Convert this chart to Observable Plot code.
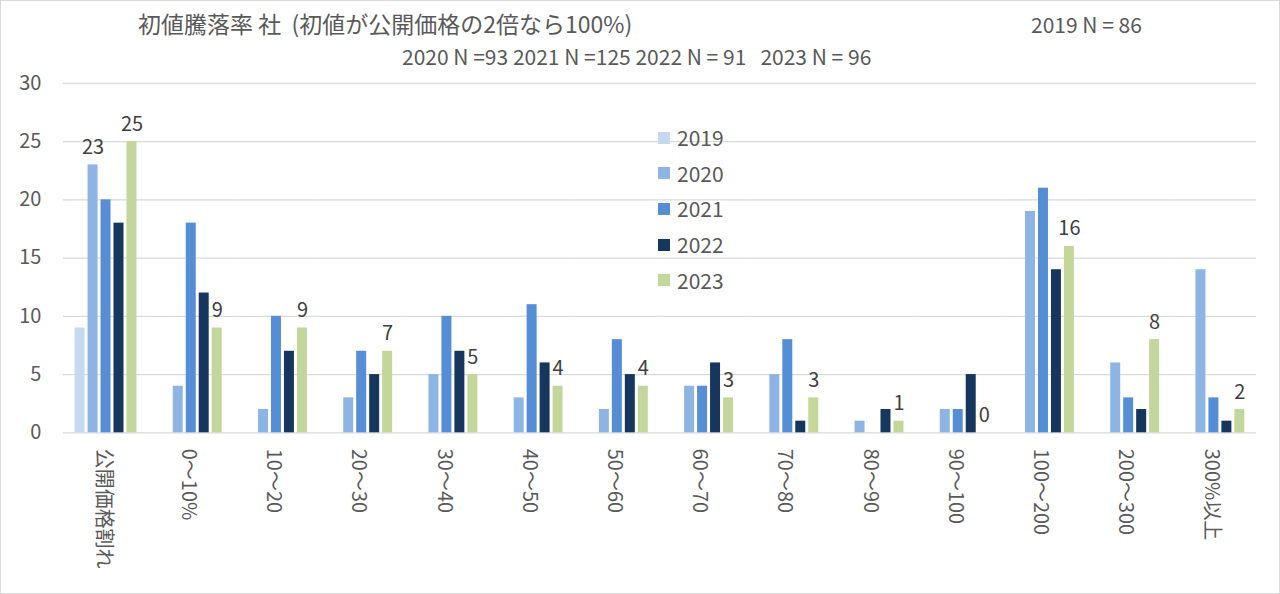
<!DOCTYPE html>
<html>
<head>
<meta charset="utf-8">
<script src="https://cdn.jsdelivr.net/npm/d3@7"></script>
<script src="https://cdn.jsdelivr.net/npm/@observablehq/plot@0.6"></script>
<style>
  html, body { margin: 0; padding: 0; background: #fff; }
  #wrap { position: relative; width: 1280px; height: 594px; box-sizing: border-box; border: 1px solid #d9d9d9; overflow: hidden;
          font-family: "Noto Sans CJK JP", "Noto Sans", sans-serif; color: #595959; }
  #wrap svg { position: absolute; left: -1px; top: -1px; }
  .t { position: absolute; font-size: 21px; white-space: pre; line-height: 1; }
  .lg { position: absolute; font-size: 21px; line-height: 1; display: flex; align-items: center; }
  .lg span.sw { display: inline-block; width: 12px; height: 12px; margin-right: 7px; }
</style>
</head>
<body>
<div id="wrap"></div>
<script>
const categories = ["公開価格割れ", "0～10%", "10～20", "20～30", "30～40", "40～50", "50～60", "60～70", "70～80", "80～90", "90～100", "100～200", "200～300", "300%以上"];
const years = ["2019", "2020", "2021", "2022", "2023"];
const colors = ["#c6d9f0", "#8eb4e3", "#558ed5", "#17365d", "#c3d69b"];
const v2019 = [9, null, null, null, null, null, null, null, null, null, null, null, null, null];
const v2020 = [23, 4, 2, 3, 5, 3, 2, 4, 5, 1, 2, 19, 6, 14];
const v2021 = [20, 18, 10, 7, 10, 11, 8, 4, 8, 0, 2, 21, 3, 3];
const v2022 = [18, 12, 7, 5, 7, 6, 5, 6, 1, 2, 5, 14, 2, 1];
const v2023 = [25, 9, 9, 7, 5, 4, 4, 3, 3, 1, 0, 16, 8, 2];
const yTicks = [0, 5, 10, 15, 20, 25, 30];
const title1 = "初値騰落率 社  (初値が公開価格の2倍なら100%)";
const title2 = "2020 N =93 2021 N =125 2022 N = 91   2023 N = 96";
const title3 = "2019 N = 86";

const series = [v2019, v2020, v2021, v2022, v2023];
const rows = [];
categories.forEach((c, i) => {
  years.forEach((y, j) => {
    const v = series[j][i];
    if (v != null) rows.push({cat: c, year: y, value: v});
  });
});
const labelRows = rows.filter(d => d.year === "2023" || (d.year === "2020" && d.cat === categories[0]));

const chart = Plot.plot({
  width: 1280,
  height: 594,
  marginTop: 83,
  marginBottom: 161,
  marginLeft: 63,
  marginRight: 22,
  style: {fontFamily: '"Noto Sans CJK JP", "Noto Sans", sans-serif', fontSize: "20px", color: "#595959", background: "transparent"},
  fx: {domain: categories, padding: 0, round: false, label: null},
  x: {domain: years, paddingInner: 0.23, paddingOuter: 0.9, round: false, axis: null},
  y: {domain: [0, 30], ticks: yTicks, label: null},
  color: {domain: years, range: colors},
  marks: [
    Plot.gridY(yTicks, {stroke: "#d9d9d9", strokeOpacity: 1, strokeWidth: 1.2}),
    Plot.axisY(yTicks, {tickSize: 0, tickPadding: 22, fontSize: 20, fill: "#595959"}),
    Plot.axisFx({anchor: "bottom", tickRotate: 90, tickSize: 0, tickPadding: 16, fontSize: 20, fill: "#595959", dx: -3}),
    Plot.barY(rows, {fx: "cat", x: "year", y: "value", fill: "year"}),
    Plot.text(labelRows, {fx: "cat", x: "year", y: "value", text: d => String(d.value), lineAnchor: "bottom", dy: -11, fontSize: 20, fill: "#404040"})
  ]
});

const wrap = document.getElementById("wrap");
wrap.appendChild(chart);

function addText(txt, left, top, size) {
  const d = document.createElement("div");
  d.className = "t";
  d.textContent = txt;
  d.style.left = left + "px";
  d.style.top = top + "px";
  d.style.fontSize = size + "px";
  wrap.appendChild(d);
}
addText(title1, 137, 11, 23);
addText(title2, 401, 45, 21);
addText(title3, 1030, 13, 21);

years.forEach((y, i) => {
  const d = document.createElement("div");
  d.className = "lg";
  d.style.left = "657px";
  d.style.top = (126 + i * 35.7) + "px";
  const sw = document.createElement("span");
  sw.className = "sw";
  sw.style.background = colors[i];
  d.appendChild(sw);
  d.appendChild(document.createTextNode(y));
  wrap.appendChild(d);
});
</script>
</body>
</html>
